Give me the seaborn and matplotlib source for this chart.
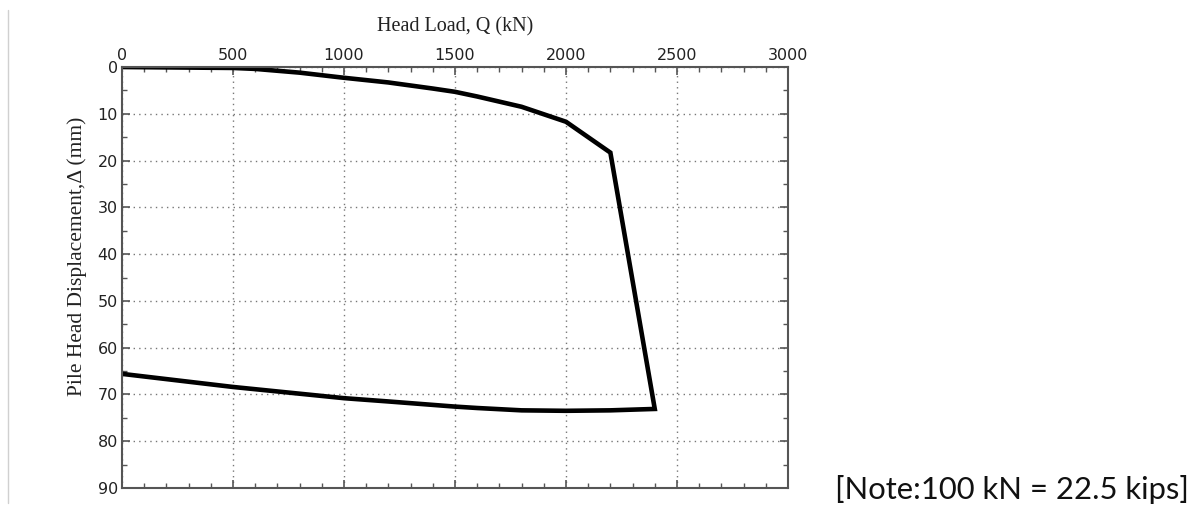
import numpy as np
import pandas as pd
import seaborn as sns
import matplotlib.pyplot as plt
from matplotlib.lines import Line2D
from matplotlib.ticker import MultipleLocator

# Load–displacement path of the pile head (loading, then unloading)
load_kn = [0, 500, 600, 800, 1000, 1200, 1400, 1500, 1600, 1800, 2000, 2200, 2400,
           2200, 2000, 1800, 1600, 1500, 1200, 1000, 500, 0]
displacement_mm = [0, 0.2, 0.4, 1.2, 2.3, 3.3, 4.6, 5.3, 6.3, 8.5, 11.7, 18.3, 73.1,
                   73.4, 73.5, 73.4, 72.9, 72.6, 71.5, 70.8, 68.4, 65.6]

x_ticks = [0, 500, 1000, 1500, 2000, 2500, 3000]
y_ticks = [0, 10, 20, 30, 40, 50, 60, 70, 80, 90]

df = pd.DataFrame({"Q": load_kn, "D": displacement_mm})

sns.set_style("white")
plt.rcParams["font.family"] = ["DejaVu Sans"]

fig = plt.figure(figsize=(11.99, 5.12), dpi=100)
ax = fig.add_axes([0.1017, 0.0469, 0.5555, 0.8222])

sns.lineplot(data=df, x="Q", y="D", sort=False, estimator=None,
             color="black", linewidth=3.3, ax=ax,
             solid_joinstyle="miter", solid_capstyle="butt")

ax.set_xlim(0, 3000)
ax.set_ylim(90, 0)
ax.set_xticks(x_ticks)
ax.set_yticks(y_ticks)
ax.xaxis.set_minor_locator(MultipleLocator(100))
ax.yaxis.set_minor_locator(MultipleLocator(5))

ax.xaxis.tick_top()
ax.xaxis.set_label_position("top")
ax.tick_params(which="both", direction="in", top=True, bottom=True, left=True, right=True,
               color="#555555", labelcolor="#222222", labelsize=11.5)
ax.tick_params(which="major", length=6, width=1.2, pad=3)
ax.tick_params(which="minor", length=3.5, width=1.0)

ax.grid(True, which="major", linestyle=(0, (1, 3)), color="#777777", linewidth=1.0)
for s in ax.spines.values():
    s.set_color("#555555")
    s.set_linewidth(1.5)

ax.set_xlabel("Head Load, Q (kN)", family="Liberation Serif", fontsize=14.5,
              color="#222222", labelpad=12)
ax.set_ylabel("Pile Head Displacement,Δ (mm)", family="Liberation Serif", fontsize=15.5,
              color="#222222")
ax.yaxis.set_label_coords(-0.052, 0.55)

fig.text(0.6965, 0.025, "[Note:100 kN = 22.5 kips]", family="Lato", fontsize=22.3,
         color="#111111", ha="left", va="baseline")

# thin page border at the left edge
fig.add_artist(Line2D([7.5 / 1199, 7.5 / 1199], [1 - 10 / 512, 1 - 503 / 512],
                      color="#d0d0d0", linewidth=1.0))

fig.savefig("out.png", dpi=100)
